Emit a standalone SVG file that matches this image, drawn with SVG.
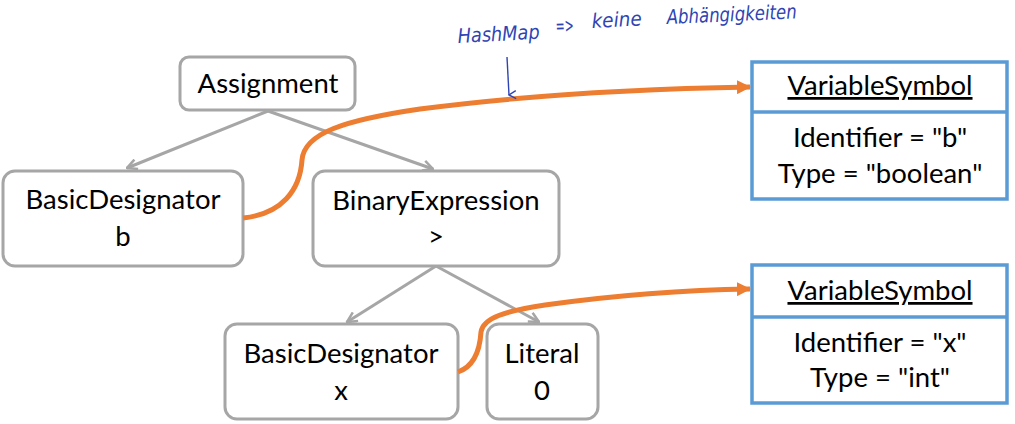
<svg xmlns="http://www.w3.org/2000/svg" width="1015" height="424" viewBox="0 0 1015 424">
<style>
.node{fill:#fff;stroke:#a6a6a6;stroke-width:3}
.t{font-family:Lato,"Open Sans",sans-serif;font-size:27.5px;fill:#000;text-anchor:middle}
.edge{stroke:#a6a6a6;stroke-width:3;fill:none}
.ref{stroke:#ed7d31;stroke-width:5;fill:none}
.sym{fill:#fff;stroke:#5b9bd5;stroke-width:3.5}
.hand{font-family:"DejaVu Sans",sans-serif;font-style:italic;font-size:20px;fill:#2e44b4}
</style>
<defs>
<marker id="open" viewBox="0 0 12 12" refX="11" refY="6" markerWidth="12" markerHeight="12" markerUnits="userSpaceOnUse" orient="auto">
<path d="M1,1 L11,6 L1,11" fill="none" stroke="#a6a6a6" stroke-width="2.5"/>
</marker>
<marker id="tri" viewBox="0 0 14 14" refX="13" refY="7" markerWidth="14" markerHeight="14" markerUnits="userSpaceOnUse" orient="auto">
<path d="M0,0 L14,7 L0,14 Z" fill="#ed7d31"/>
</marker>
<marker id="pen" viewBox="0 0 10 10" refX="5" refY="9" markerWidth="10" markerHeight="10" markerUnits="userSpaceOnUse" orient="auto">
<path d="M1,2 L5,9 L9,2" fill="none" stroke="#2e44b4" stroke-width="1.4"/>
</marker>
</defs>
<g id="edges">
<line class="edge" x1="268" y1="111" x2="127" y2="168" marker-end="url(#open)"/>
<line class="edge" x1="268" y1="111" x2="433" y2="169" marker-end="url(#open)"/>
<line class="edge" x1="436" y1="266" x2="347" y2="322" marker-end="url(#open)"/>
<line class="edge" x1="436" y1="266" x2="539" y2="322" marker-end="url(#open)"/>
</g>
<g id="assignment"><rect class="node" x="180" y="57" width="175" height="53" rx="9"/><text class="t" x="268" y="93">Assignment</text></g>
<g id="designator-b"><rect class="node" x="3" y="171" width="240" height="95" rx="12"/><text class="t" x="123" y="209">BasicDesignator</text><text class="t" x="123" y="246">b</text></g>
<g id="binary"><rect class="node" x="313" y="171" width="246" height="95" rx="12"/><text class="t" x="436" y="210">BinaryExpression</text><text class="t" x="436" y="246">&gt;</text></g>
<g id="designator-x"><rect class="node" x="225" y="324" width="233" height="95" rx="12"/><text class="t" x="341" y="363">BasicDesignator</text><text class="t" x="341" y="400">x</text></g>
<g id="literal"><rect class="node" x="487" y="324" width="111" height="95" rx="12"/><text class="t" x="542" y="363">Literal</text><text class="t" x="542" y="400">0</text></g>
<g id="symbol-b"><rect class="sym" x="752" y="62" width="255" height="137"/><line class="sym" x1="752" y1="112" x2="1007" y2="112"/><text class="t" x="880" y="95" text-decoration="underline">VariableSymbol</text><text class="t" x="880" y="147">Identifier = "b"</text><text class="t" x="880" y="183">Type = "boolean"</text></g>
<g id="symbol-x"><rect class="sym" x="752" y="265" width="255" height="138"/><line class="sym" x1="752" y1="317" x2="1007" y2="317"/><text class="t" x="880" y="300" text-decoration="underline">VariableSymbol</text><text class="t" x="880" y="352">Identifier = "x"</text><text class="t" x="880" y="387">Type = "int"</text></g>
<g id="refs">
<path class="ref" d="M243,218 C282,214 300,190 302,160 C304,133 345,120 420,109 C520,96 630,89 750,87" marker-end="url(#tri)"/>
<path class="ref" d="M458,372 C475,366 480,348 481,332 C483,318 505,311 545,305 C610,296 680,290 750,289" marker-end="url(#tri)"/>
</g>
<g id="note">
<text class="hand" transform="rotate(-3 458 43)" x="458" y="43" textLength="82" lengthAdjust="spacingAndGlyphs">HashMap</text>
<text class="hand" transform="rotate(-3 556 33)" x="556" y="33" textLength="18" lengthAdjust="spacingAndGlyphs">=&gt;</text>
<text class="hand" transform="rotate(-3 592 28)" x="592" y="28" textLength="50" lengthAdjust="spacingAndGlyphs">keine</text>
<text class="hand" transform="rotate(-2.5 667 24)" x="667" y="24" textLength="130" lengthAdjust="spacingAndGlyphs">Abhängigkeiten</text>
<line x1="507" y1="57" x2="509" y2="95" stroke="#2e44b4" stroke-width="1.4" marker-end="url(#pen)"/>
</g>
</svg>
